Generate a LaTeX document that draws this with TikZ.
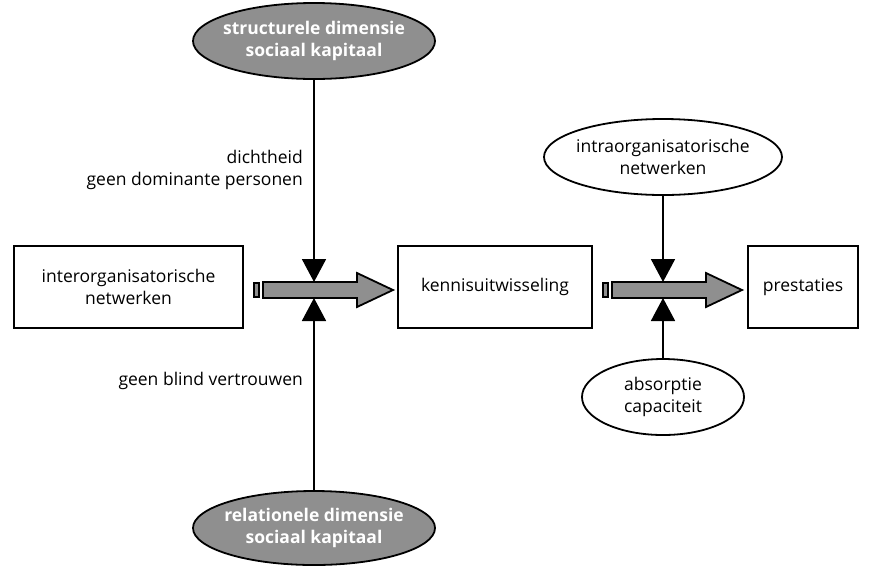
\documentclass[tikz,border=0pt]{standalone}
\usepackage{fontspec}
\setmainfont{Open Sans}
\usetikzlibrary{arrows.meta,shapes.geometric}
\definecolor{gfill}{RGB}{143,143,143}
\begin{document}
\begin{tikzpicture}[x=1pt,y=-1pt,
  txt/.style={font=\fontsize{17.5}{22.5}\selectfont, align=center, inner sep=0pt},
  box/.style={draw, line width=1.8pt, rectangle, txt},
  oval/.style={draw, line width=1.8pt, ellipse, inner sep=0pt},
  goval/.style={oval, fill=gfill},
  gtxt/.style={txt, text=white, font=\fontsize{17.5}{22.5}\selectfont\bfseries},
  vline/.style={line width=1.8pt, -{Triangle[width=24pt,length=23pt]}},
  fat/.style={draw, line width=1.8pt, fill=gfill, line join=miter},
  lab/.style={txt, align=right, anchor=east}]
\useasboundingbox (0,0) rectangle (872,566);
% boxes
\node[box, minimum width=229pt, minimum height=82pt] (inter) at (128.5,287) {interorganisatorische\\netwerken};
\node[box, minimum width=194pt, minimum height=82pt] (kennis) at (495,287) {kennisuitwisseling};
\node[box, minimum width=110pt, minimum height=82pt] (prest) at (803,287) {prestaties};
% ellipses
\node[goval, minimum width=242pt, minimum height=76pt] (sd) at (314,41) {};
\node[gtxt] (sdt) at (sd) {structurele dimensie\\sociaal kapitaal};
\node[goval, minimum width=242pt, minimum height=74pt] (rd) at (314,528) {};
\node[gtxt] (rdt) at (rd) {relationele dimensie\\sociaal kapitaal};
\node[oval, minimum width=238pt, minimum height=76pt] (intra) at (663,157) {};
\node[txt] (intrat) at (intra) {intraorganisatorische\\netwerken};
\node[oval, minimum width=162pt, minimum height=76pt] (abs) at (663,397) {};
\node[txt] (abst) at (abs) {absorptie\\capaciteit};
% labels
\node[lab] (l1) at (303,170) {dichtheid\\geen dominante personen};
\node[lab] (l2) at (303,381) {geen blind vertrouwen};
% fat arrows
\begin{scope}[shift={(254,0)}]
  \draw[fat] (0,283) rectangle (5,297);
  \draw[fat] (9,282) -- (103,282) -- (103,273) -- (139,290) -- (103,307) -- (103,298) -- (9,298) -- cycle;
\end{scope}
\begin{scope}[shift={(603,0)}]
  \draw[fat] (0,283) rectangle (5,297);
  \draw[fat] (9,282) -- (103,282) -- (103,273) -- (139,290) -- (103,307) -- (103,298) -- (9,298) -- cycle;
\end{scope}
\coordinate (t1) at (314,282);
\coordinate (b1) at (314,298);
\coordinate (t2) at (663,282);
\coordinate (b2) at (663,298);
\draw[vline] (sd.south) -- (t1);
\draw[vline] (rd.north) -- (b1);
\draw[vline] (intra.south) -- (t2);
\draw[vline] (abs.north) -- (b2);
\end{tikzpicture}
\end{document}
